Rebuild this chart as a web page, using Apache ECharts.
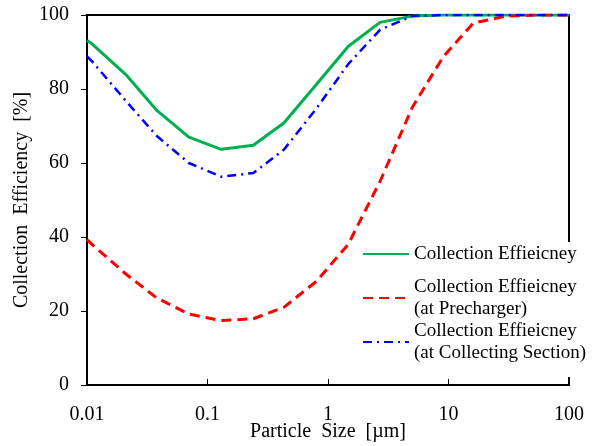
<!DOCTYPE html>
<html>
<head>
<meta charset="utf-8">
<script src="https://cdn.jsdelivr.net/npm/echarts@6/dist/echarts.min.js"></script>
<style>
  html, body { margin: 0; padding: 0; background: #fff; }
  #chart { width: 595px; height: 446px; }
</style>
</head>
<body>
<div id="chart"></div>
<script>
// particle size bins [um]
var sizes = [0.01, 0.011, 0.021, 0.038, 0.07, 0.13, 0.24, 0.43, 0.8, 1.47, 2.7, 5, 9, 16, 30, 55, 100];
// collection efficiency [%]
var total = [93.1, 92.2, 83.9, 74.2, 67.0, 63.7, 64.8, 70.8, 81.2, 91.5, 98.0, 99.7, 100, 100, 100, 100, 100];
var precharger = [39.3, 38.0, 30.0, 23.5, 19.2, 17.4, 17.9, 21.0, 28.0, 38.0, 55.0, 75.0, 88.6, 97.8, 99.7, 100, 100];
var collecting = [88.8, 87.5, 76.8, 67.3, 60.0, 56.3, 57.3, 63.6, 74.7, 86.7, 96.0, 99.7, 100, 100, 100, 100, 100];

var xTickLabels = ['0.01', '0.1', '1', '10', '100'];
var yTickLabels = ['0', '20', '40', '60', '80', '100'];

var names = ['Collection Effieicney',
             'Collection Effieicney\n(at Precharger)',
             'Collection Effieicney\n(at Collecting Section)'];

function pairs(ys) {
    return sizes.map(function (x, i) { return [x, ys[i]]; });
}

var font = "'Liberation Serif', 'Times New Roman', serif";

var chart = echarts.init(document.getElementById('chart'));
var option = {
    animation: false,
    backgroundColor: '#fff',
    textStyle: { fontFamily: font, color: '#000' },
    grid: {
        left: 87, right: 26, top: 15, bottom: 61,
        outerBoundsMode: 'none', containLabel: false,
        show: true, borderColor: '#000', borderWidth: 2
    },
    xAxis: {
        type: 'log', logBase: 10, min: 0.01, max: 100,
        name: 'Particle  Size  [\u00b5m]', nameLocation: 'middle', nameGap: 37,
        nameMoveOverlap: false,
        nameTextStyle: { fontFamily: font, fontSize: 20, color: '#000' },
        axisLine: { lineStyle: { color: '#000', width: 2 } },
        axisTick: { inside: true, length: 6, lineStyle: { color: '#000', width: 1 } },
        minorTick: { show: false },
        splitLine: { show: false },
        axisLabel: {
            margin: 20, fontSize: 20, color: '#000', fontFamily: font,
            formatter: function (v, i) { return xTickLabels[i]; }
        }
    },
    yAxis: {
        type: 'value', min: 0, max: 100, interval: 20,
        name: 'Collection  Efficiency  [%]', nameLocation: 'middle', nameGap: 55,
        nameMoveOverlap: false,
        nameTextStyle: { fontFamily: font, fontSize: 20, color: '#000' },
        axisLine: { lineStyle: { color: '#000', width: 2 } },
        axisTick: { inside: false, length: 6, lineStyle: { color: '#000', width: 1 } },
        splitLine: { show: false },
        axisLabel: {
            margin: 18, fontSize: 20, color: '#000', fontFamily: font,
            formatter: function (v, i) { return yTickLabels[i]; }
        }
    },
    legend: {
        orient: 'vertical',
        left: 360, top: 242,
        padding: [-21, 6, 2, 2],
        backgroundColor: '#fff',
        itemWidth: 46, itemHeight: 12, itemGap: -22,
        itemStyle: { opacity: 0 },
        textStyle: { fontFamily: font, fontSize: 19, color: '#000', lineHeight: 22 },
        data: [
            { name: names[0], textStyle: { padding: [22, 0, 22, 0] } },
            { name: names[1], textStyle: { padding: [22, 0, 0, 0] } },
            { name: names[2], textStyle: { padding: [22, 0, 0, 0] } }
        ]
    },
    series: [
        {
            name: names[0], type: 'line', data: pairs(total),
            showSymbol: false, symbol: 'none',
            lineStyle: { color: '#00b050', width: 3, type: 'solid' },
            itemStyle: { color: '#00b050' }
        },
        {
            name: names[1], type: 'line', data: pairs(precharger),
            showSymbol: false, symbol: 'none',
            lineStyle: { color: '#ff0000', width: 3, type: [10, 6] },
            itemStyle: { color: '#ff0000' }
        },
        {
            name: names[2], type: 'line', data: pairs(collecting),
            showSymbol: false, symbol: 'none',
            lineStyle: { color: '#0000ff', width: 2.5, type: [9, 5, 2, 5] },
            itemStyle: { color: '#0000ff' }
        }
    ]
};
chart.setOption(option);
</script>
</body>
</html>
